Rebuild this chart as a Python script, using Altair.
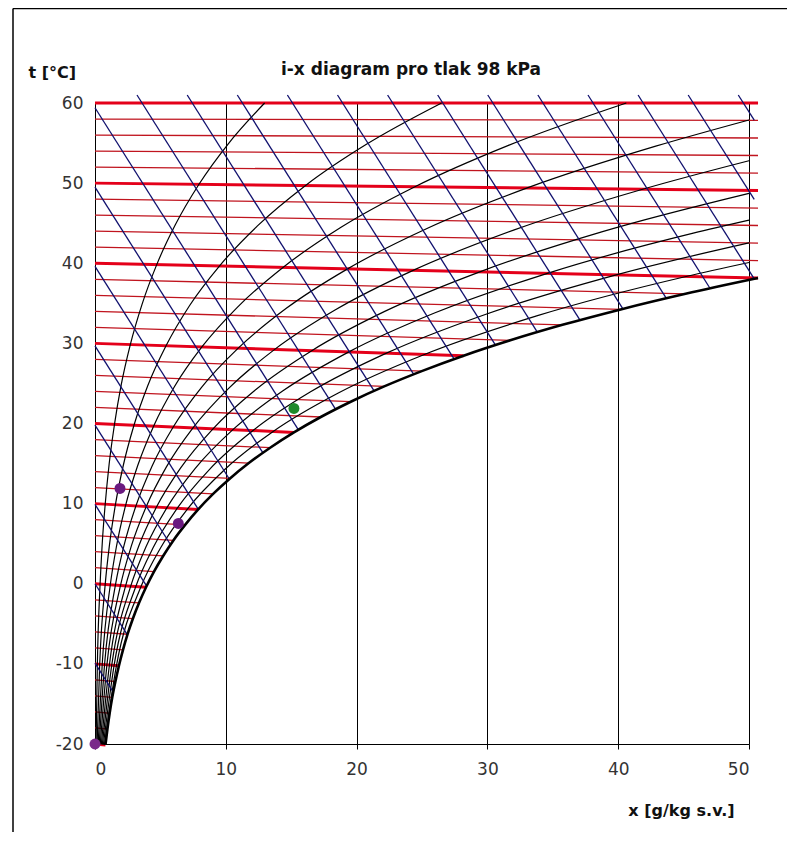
import altair as alt
import pandas as pd

FONT = "DejaVu Sans"

X_TICKS = [0, 10, 20, 30, 40, 50]
Y_TICKS = [-20, -10, 0, 10, 20, 30, 40, 50, 60]

# isotherms (red): start at x=0, y=t ; end values
ISO_T = [-20, -18, -16, -14, -12, -10, -8, -6, -4, -2, 0, 2, 4, 6, 8, 10, 12, 14, 16, 18,
         20, 22, 24, 26, 28, 30, 32, 34, 36, 38, 40, 42, 44, 46, 48, 50, 52, 54, 56, 58, 60]
ISO_X_END = [0.80, 0.95, 1.12, 1.32, 1.56, 1.83, 2.14, 2.49, 2.90, 3.37, 3.90, 4.51, 5.21, 5.99,
             6.89, 7.89, 9.03, 10.32, 11.76, 13.39, 15.21, 17.26, 19.55, 22.11, 24.98, 28.18,
             31.75, 35.74, 40.19, 45.15, 50.69, 50.69, 50.69, 50.69, 50.69, 50.69, 50.69, 50.69,
             50.69, 50.69, 50.69]
ISO_Y_END = [-20.12, -18.13, -16.16, -14.18, -12.20, -10.23, -8.26, -6.30, -4.34, -2.38, -0.43,
             1.52, 3.47, 5.41, 7.35, 9.28, 11.21, 13.14, 15.06, 16.98, 18.89, 20.81, 22.72, 24.63,
             26.54, 28.46, 30.38, 32.31, 34.24, 36.19, 38.15, 40.34, 42.52, 44.71, 46.89, 49.08,
             51.26, 53.45, 55.63, 57.82, 60.00]

# saturation curve (phi = 100 %)
SAT_X = [0.80, 0.95, 1.12, 1.32, 1.56, 1.83, 2.14, 2.49, 2.90, 3.37, 3.90, 4.51, 5.21, 5.99, 6.89,
         7.89, 9.03, 10.32, 11.76, 13.39, 15.21, 17.26, 19.55, 22.11, 24.98, 28.18, 31.75, 35.74,
         40.19, 45.15, 50.69]
SAT_Y = [-20.12, -18.13, -16.16, -14.18, -12.20, -10.23, -8.26, -6.30, -4.34, -2.38, -0.43, 1.52,
         3.47, 5.41, 7.35, 9.28, 11.21, 13.14, 15.06, 16.98, 18.89, 20.81, 22.72, 24.63, 26.54,
         28.46, 30.38, 32.31, 34.24, 36.19, 38.15]

# relative humidity curves (black)
RH10_X = [0.08, 0.18, 0.39, 0.55, 0.78, 1.08, 1.49, 2.01, 2.70, 3.59, 4.72, 6.15, 7.95, 10.19, 12.97]
RH10_Y = [-20.01, -10.02, -0.04, 4.94, 9.93, 14.91, 19.89, 24.87, 29.85, 34.84, 39.83, 44.83, 49.86, 54.91, 60.0]
RH20_X = [0.16, 0.36, 0.78, 1.11, 1.56, 2.17, 2.98, 4.04, 5.43, 7.21, 9.51, 12.42, 16.10, 20.72, 26.50]
RH20_Y = [-20.02, -10.05, -0.08, 4.89, 9.86, 14.82, 19.78, 24.74, 29.70, 34.67, 39.65, 44.66, 49.71, 54.81, 60.0]
RH30_X = [0.24, 0.55, 1.17, 1.66, 2.34, 3.26, 4.48, 6.08, 8.17, 10.88, 14.37, 18.81, 24.46, 31.61, 40.62]
RH30_Y = [-20.03, -10.07, -0.13, 4.83, 9.79, 14.73, 19.67, 24.61, 29.55, 34.50, 39.48, 44.49, 49.55, 54.71, 60.0]
RH40_X = [0.32, 0.73, 1.56, 2.22, 3.13, 4.35, 5.98, 8.13, 10.95, 14.60, 19.31, 25.34, 33.05, 42.87, 50.0]
RH40_Y = [-20.05, -10.09, -0.17, 4.78, 9.72, 14.64, 19.56, 24.48, 29.40, 34.34, 39.30, 44.31, 49.40, 54.61, 57.88]
RH50_X = [0.40, 0.91, 1.95, 2.78, 3.92, 5.45, 7.49, 10.20, 13.74, 18.35, 24.32, 32.00, 41.87, 50.0]
RH50_Y = [-20.06, -10.12, -0.21, 4.72, 9.64, 14.55, 19.45, 24.35, 29.25, 34.16, 39.11, 44.13, 49.24, 52.80]
RH60_X = [0.48, 1.10, 2.34, 3.34, 4.70, 6.55, 9.02, 12.28, 16.57, 22.15, 29.42, 38.80, 50.0]
RH60_Y = [-20.07, -10.14, -0.26, 4.67, 9.57, 14.46, 19.34, 24.22, 29.09, 33.99, 38.93, 43.94, 48.72]
RH70_X = [0.56, 1.28, 2.73, 3.90, 5.50, 7.65, 10.54, 14.37, 19.41, 26.00, 34.59, 45.74, 50.0]
RH70_Y = [-20.08, -10.16, -0.30, 4.61, 9.50, 14.37, 19.23, 24.08, 28.94, 33.82, 38.74, 43.75, 45.38]
RH80_X = [0.64, 1.46, 3.12, 4.46, 6.29, 8.76, 12.08, 16.48, 22.28, 29.89, 39.85, 50.0]
RH80_Y = [-20.09, -10.19, -0.34, 4.55, 9.43, 14.28, 19.12, 23.95, 28.78, 33.64, 38.55, 42.54]
RH90_X = [0.72, 1.64, 3.51, 5.02, 7.08, 9.88, 13.62, 18.60, 25.18, 33.83, 45.19, 50.0]
RH90_Y = [-20.10, -10.21, -0.38, 4.50, 9.35, 14.19, 19.01, 23.81, 28.62, 33.46, 38.35, 40.09]

# isenthalps (navy)
ENT_I = [-10, 0, 10, 20, 30, 40, 50, 60, 70, 80, 90, 100, 110, 120, 130, 140, 150, 160, 170, 180, 190]
ENT_X0 = [0, 0, 0, 0, 0, 0, 0, 0, 3.21, 7.05, 10.88, 14.71, 18.54, 22.37, 26.20, 30.03, 33.86,
          37.69, 41.52, 45.35, 49.18]
ENT_Y0 = [-9.90, 0.0, 9.90, 19.80, 29.70, 39.60, 49.50, 59.41, 61, 61, 61, 61, 61, 61, 61, 61, 61,
          61, 61, 61, 61]
ENT_X1 = [1.40, 2.48, 3.95, 5.78, 7.90, 10.27, 12.84, 15.55, 18.40, 21.34, 24.37, 27.46, 30.62,
          33.83, 37.08, 40.36, 43.68, 47.03, 50.40, 50.40, 50.40]
ENT_Y1 = [-13.52, -6.39, -0.30, 4.87, 9.29, 13.07, 16.33, 19.21, 21.76, 24.06, 26.13, 28.03, 29.77,
          31.38, 32.89, 34.31, 35.61, 36.85, 38.06, 47.96, 57.86]

# marked states
PT_X = [1.91, 6.37, 15.21, 0.0]
PT_Y = [11.90, 7.53, 21.88, -20.0]
PT_KIND = ["a", "a", "b", "c"]

# ---------------- tables ----------------
iso_rows = []
for t, xe, ye in zip(ISO_T, ISO_X_END, ISO_Y_END):
    iso_rows.append({"id": t, "x": 0.0, "y": float(t), "major": t % 10 == 0})
    iso_rows.append({"id": t, "x": xe, "y": ye, "major": t % 10 == 0})
iso = pd.DataFrame(iso_rows)
iso_thin = iso[~iso["major"]]
iso_thick = iso[iso["major"]]

rh_rows = []
for name, xs_, ys_ in [(10, RH10_X, RH10_Y), (20, RH20_X, RH20_Y), (30, RH30_X, RH30_Y),
                       (40, RH40_X, RH40_Y), (50, RH50_X, RH50_Y), (60, RH60_X, RH60_Y),
                       (70, RH70_X, RH70_Y), (80, RH80_X, RH80_Y), (90, RH90_X, RH90_Y)]:
    for xv, yv in zip(xs_, ys_):
        rh_rows.append({"id": name, "x": xv, "y": yv})
rh = pd.DataFrame(rh_rows)

sat = pd.DataFrame({"x": SAT_X, "y": SAT_Y})

ent_rows = []
for i, x0, y0, x1, y1 in zip(ENT_I, ENT_X0, ENT_Y0, ENT_X1, ENT_Y1):
    ent_rows.append({"id": i, "x": x0, "y": y0})
    ent_rows.append({"id": i, "x": x1, "y": y1})
ent = pd.DataFrame(ent_rows)

pts = pd.DataFrame({"x": PT_X, "y": PT_Y, "kind": PT_KIND})

# ---------------- scales / axes ----------------
xs = alt.Scale(domain=[0, 50], nice=False, zero=False)
ys = alt.Scale(domain=[-20, 60], nice=False, zero=False)

x_axis = alt.Axis(values=X_TICKS, grid=True, gridColor="#000000", gridOpacity=1, gridWidth=1,
                  domainColor="#000000", domainWidth=1, tickColor="#000000", tickSize=5,
                  labelFont=FONT, labelFontSize=17, labelColor="#333333", labelPadding=12,
                  labelExpr="datum.value + ''",
                  title="x [g/kg s.v.]", titleFont=FONT, titleFontSize=16, titleFontWeight="bold",
                  titleColor="#111111", titleX=586, titleY=66, titleAlign="center",
                  titleBaseline="middle")
y_axis = alt.Axis(values=Y_TICKS, grid=False, ticks=False, domainColor="#000000", domainWidth=1,
                  labelFont=FONT, labelFontSize=17, labelColor="#333333", labelPadding=12,
                  labelExpr="datum.value + ''",
                  title="t [°C]", titleFont=FONT, titleFontSize=16, titleFontWeight="bold",
                  titleColor="#111111", titleAngle=0, titleX=-67, titleY=-31, titleAlign="left",
                  titleBaseline="middle")

X = alt.X("x:Q", scale=xs, axis=x_axis)
Y = alt.Y("y:Q", scale=ys, axis=y_axis)
Xn = alt.X("x:Q", scale=xs)
Yn = alt.Y("y:Q", scale=ys)

thin_layer = alt.Chart(iso_thin).mark_line(color="#c0141e", strokeWidth=1.3).encode(
    x=X, y=Y, detail="id:N")
thick_layer = alt.Chart(iso_thick).mark_line(color="#e4001a", strokeWidth=3).encode(
    x=Xn, y=Yn, detail="id:N")
rh_layer = alt.Chart(rh).mark_line(color="#000000", strokeWidth=1.2, interpolate="monotone").encode(
    x=Xn, y=Yn, detail="id:N")
ent_layer = alt.Chart(ent).mark_line(color="#10106e", strokeWidth=1.3).encode(
    x=Xn, y=Yn, detail="id:N")
sat_layer = alt.Chart(sat).mark_line(color="#000000", strokeWidth=2.6, interpolate="monotone").encode(
    x=Xn, y=Yn)
pt_layer = alt.Chart(pts).mark_point(filled=True, opacity=1, shape="circle").encode(
    x=Xn, y=Yn,
    color=alt.Color("kind:N", scale=alt.Scale(domain=["a", "b", "c"],
                                              range=["#6a1a80", "#1f8a2a", "#7a2a8a"]), legend=None),
    size=alt.Size("kind:N", scale=alt.Scale(domain=["a", "b", "c"], range=[120, 120, 30]), legend=None))

frame = pd.DataFrame({"k": [0]})
left_border = alt.Chart(frame).mark_rule(color="#000000", strokeWidth=1.5).encode(
    x=alt.value(-82), y=alt.value(-94.5), y2=alt.value(760))
top_border = alt.Chart(frame).mark_rule(color="#000000", strokeWidth=1.5).encode(
    x=alt.value(-82), x2=alt.value(720), y=alt.value(-94.5))

chart = alt.layer(thin_layer, thick_layer, rh_layer, ent_layer, sat_layer, pt_layer,
                  left_border, top_border).properties(
    width=654, height=641,
    title=alt.TitleParams("i-x diagram pro tlak 98 kPa", font=FONT, fontSize=17,
                          fontWeight="bold", color="#111111", anchor="middle", frame="group",
                          dx=-11, dy=75),
    autosize=alt.AutoSizeParams(type="none"),
    padding={"left": 87, "top": 95, "right": 38, "bottom": 88},
).configure_view(stroke=None).configure(background="#ffffff")

chart.save("out.html", embed_options={"renderer": "svg", "actions": False})
